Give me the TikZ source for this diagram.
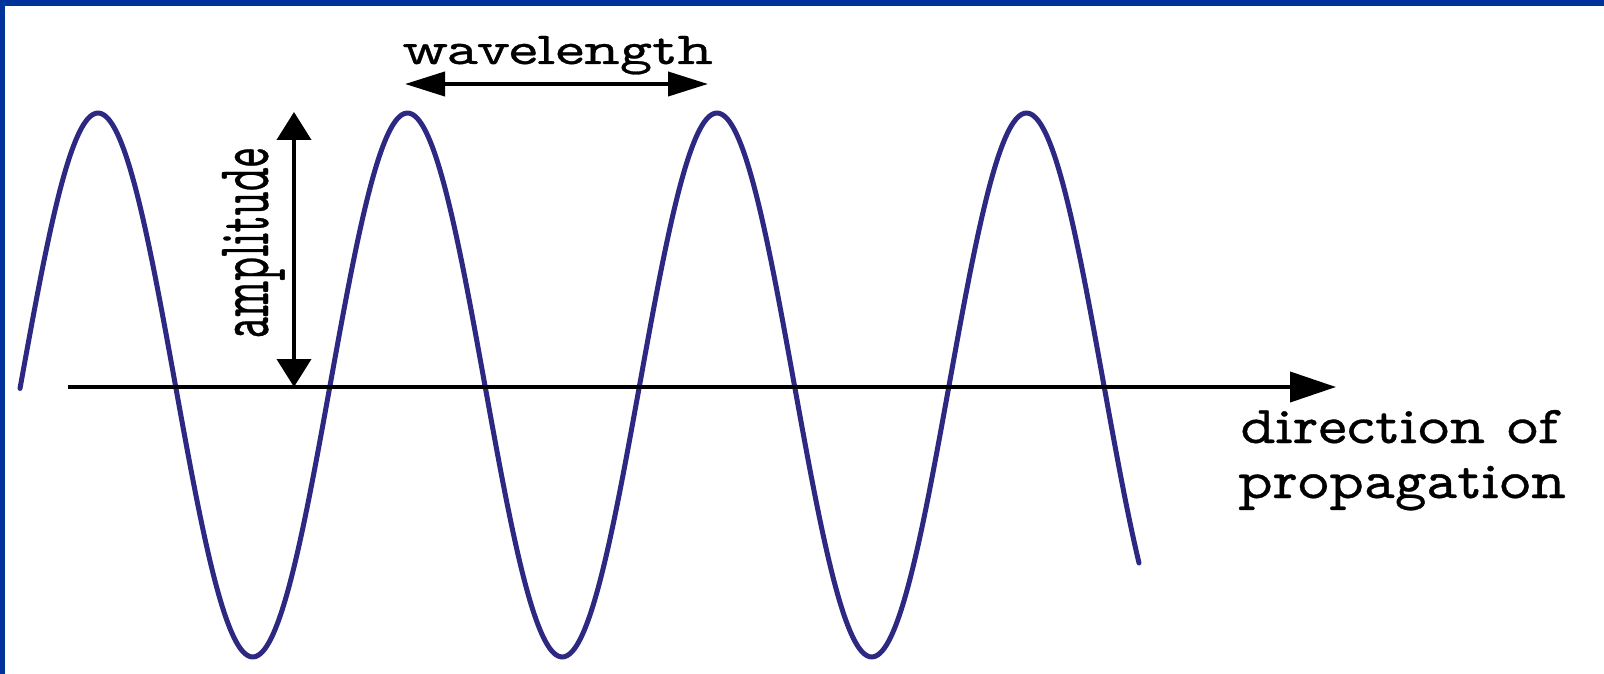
\documentclass[tikz,border=0pt]{standalone}
\usepackage{fontspec}
\newfontfamily\labfont[AutoFakeBold=0.6]{Latin Modern Mono Prop}
\usetikzlibrary{arrows.meta}
\definecolor{slideblue}{RGB}{0,51,153}
\definecolor{wavecol}{RGB}{45,40,130}
\begin{document}
\begin{tikzpicture}[x=1pt,y=-1pt,
  lbl/.style={inner sep=0pt, outer sep=0pt, font=\labfont\bfseries\fontsize{40}{40}\selectfont},
  wavestyle/.style={draw=wavecol, line width=5pt, line cap=round, line join=round},
  axisstyle/.style={draw=black, line width=4pt, -{Triangle[length=46pt,width=30pt]}},
  ampdim/.style={draw=black, line width=4pt, {Triangle[length=28pt,width=34pt]}-{Triangle[length=28pt,width=34pt]}},
  wldim/.style={draw=black, line width=4pt, {Triangle[length=40pt,width=24pt]}-{Triangle[length=40pt,width=24pt]}}]
\useasboundingbox (0,0) rectangle (1604,674);
\fill[white] (0,0) rectangle (1604,674);
\fill[slideblue] (0,0) rectangle (1604,6);
\fill[slideblue] (0,0) rectangle (5,674);

% wave
\draw[wavestyle] plot[domain=20:1139,samples=400,smooth] (\x,{385-272*cos((\x-98)*1.16317)});

% axis
\coordinate (axstart) at (68,387);
\coordinate (axend) at (1336,387);
\draw[axisstyle] (axstart) -- (axend);

% amplitude arrow
\coordinate (ampbot) at (294,387);
\coordinate (amptop) at (294,112);
\draw[ampdim] (ampbot) -- (amptop);

% wavelength arrow
\coordinate (wlleft) at (405,84);
\coordinate (wlright) at (708,84);
\draw[wldim] (wlleft) -- (wlright);

% labels
\node[lbl, anchor=base west] (wl) at (402,64) {\resizebox{311pt}{28pt}{\vphantom{d}wavelength}};
\node[lbl, anchor=base west] (dir) at (1240,443) {\resizebox{318pt}{33pt}{\vphantom{d}direction of}};
\node[lbl, anchor=base west] (prop) at (1238,498) {\resizebox{328pt}{33pt}{\vphantom{d}propagation}};
\node[lbl, anchor=base west, rotate=90] (amp) at (268,338) {\resizebox{190pt}{46pt}{\vphantom{d}amplitude}};
\end{tikzpicture}
\end{document}
